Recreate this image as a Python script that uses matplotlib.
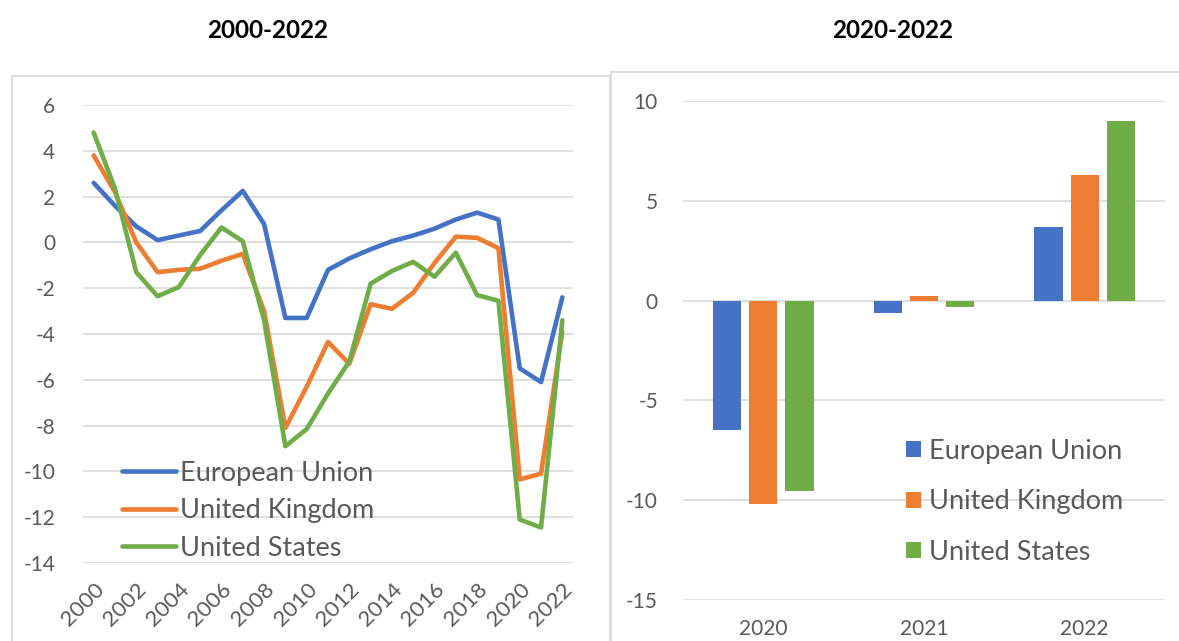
import numpy as np
import matplotlib
matplotlib.use("Agg")
import matplotlib.pyplot as plt
from matplotlib.patches import Rectangle

plt.rcParams['font.family'] = ['Lato', 'DejaVu Sans']
plt.rcParams['axes.unicode_minus'] = False

# data
years = list(range(2000, 2023))
eu = [2.6, 1.6, 0.7, 0.1, 0.3, 0.5, 1.4, 2.25, 0.8, -3.3, -3.3, -1.2, -0.7, -0.3, 0.05,
      0.3, 0.6, 1.0, 1.3, 1.0, -5.5, -6.1, -2.4]
uk = [3.8, 2.2, 0.0, -1.3, -1.2, -1.15, -0.8, -0.5, -3.0, -8.1, -6.3, -4.35, -5.3, -2.7,
      -2.9, -2.2, -0.9, 0.25, 0.2, -0.25, -10.35, -10.1, -3.9]
us = [4.8, 2.35, -1.3, -2.35, -1.95, -0.55, 0.65, 0.05, -3.4, -8.9, -8.15, -6.6, -5.2,
      -1.8, -1.25, -0.85, -1.5, -0.45, -2.3, -2.55, -12.1, -12.45, -3.4]

bar_years = ['2020', '2021', '2022']
eu_bar = [-6.5, -0.6, 3.7]
uk_bar = [-10.2, 0.25, 6.3]
us_bar = [-9.55, -0.3, 9.0]

names = ['European Union', 'United Kingdom', 'United States']
colors = ['#4472C4', '#ED7D31', '#70AD47']
grid_c = '#D9D9D9'
text_c = '#595959'

W, H = 1179, 641
fig = plt.figure(figsize=(W / 100, H / 100), dpi=100)

def fx(px):
    return px / W

def fy(py):
    return 1 - py / H

# panel frames
fig.patches.append(Rectangle((fx(12), fy(700)), fx(598), fy(76) - fy(700),
                             transform=fig.transFigure, fill=False, ec=grid_c, lw=1.3))
fig.patches.append(Rectangle((fx(611), fy(700)), fx(700), fy(72) - fy(700),
                             transform=fig.transFigure, fill=False, ec=grid_c, lw=1.3))

fig.text(fx(268), fy(31), '2000-2022', ha='center', va='center',
         fontsize=17.5, fontweight='bold', color='black')
fig.text(fx(893), fy(31), '2020-2022', ha='center', va='center',
         fontsize=17.5, fontweight='bold', color='black')

# left: line chart
ax1 = fig.add_axes([fx(83), fy(563), fx(573) - fx(83), fy(105) - fy(563)])
for vals, n, c in zip([eu, uk, us], names, colors):
    ax1.plot(years, vals, color=c, lw=3.3, label=n, solid_capstyle='round')
ax1.set_xlim(1999.5, 2022.5)
ax1.set_ylim(-14, 6)
ax1.set_yticks(range(-14, 7, 2))
ax1.set_xticks(range(2000, 2023, 2))
ax1.set_xticklabels([str(y) for y in range(2000, 2023, 2)], rotation=45,
                    ha='right', rotation_mode='anchor')
ax1.grid(axis='y', color=grid_c, lw=1.2)
ax1.set_axisbelow(True)
for s in ax1.spines.values():
    s.set_visible(False)
ax1.tick_params(axis='y', length=0, pad=20, labelsize=15, labelcolor=text_c)
ax1.tick_params(axis='x', length=0, pad=12, labelsize=16, labelcolor=text_c)
ax1.legend(loc='upper left', bbox_to_anchor=(0.08, 0.223), frameon=False,
           fontsize=19.5, handlelength=2.0, handletextpad=0.15, labelspacing=0.46,
           borderpad=0, borderaxespad=0, labelcolor=text_c)

# right: bar chart
ax2 = fig.add_axes([fx(683), fy(600), fx(1165) - fx(683), fy(101) - fy(600)])
x = np.arange(len(bar_years))
for i, (vals, n, c) in enumerate(zip([eu_bar, uk_bar, us_bar], names, colors)):
    ax2.bar(x + (i - 1) * 0.225, vals, width=0.175, color=c, label=n)
ax2.set_xlim(-0.5, 2.5)
ax2.set_ylim(-15, 10)
ax2.set_yticks(range(-15, 11, 5))
ax2.set_xticks(x)
ax2.set_xticklabels(bar_years)
ax2.grid(axis='y', color=grid_c, lw=1.2)
ax2.set_axisbelow(True)
for s in ax2.spines.values():
    s.set_visible(False)
ax2.tick_params(axis='y', length=0, pad=18, labelsize=15, labelcolor=text_c)
ax2.tick_params(axis='x', length=0, pad=14, labelsize=15, labelcolor=text_c)
ax2.legend(loc='upper left', bbox_to_anchor=(0.463, 0.323), frameon=False,
           fontsize=19.5, handlelength=0.55, handleheight=0.55, handletextpad=0.3,
           labelspacing=0.94, borderpad=0, borderaxespad=0, labelcolor=text_c)

fig.savefig('out.png', dpi=100)
